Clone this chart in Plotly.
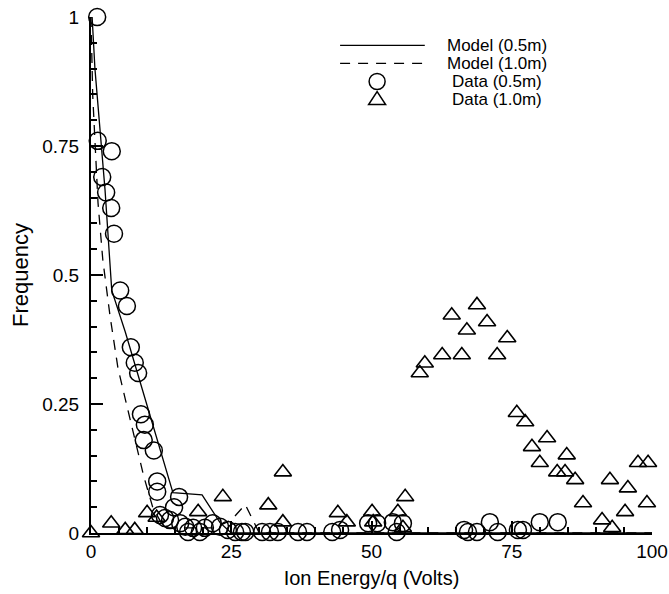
import plotly.graph_objects as go

# ---------------- data ----------------
model_05_x = [0, 0.2, 0.7, 2.5, 3.7, 6.1, 9.1, 14.6, 19.8, 21.6, 23.0, 25.0, 100]
model_05_y = [1.0, 1.0, 0.9, 0.665, 0.47, 0.39, 0.28, 0.078, 0.074, 0.045, 0.02, 0.0, 0.0]

model_10_x = [0, 0.3, 1.25, 2.1, 3.4, 4.8, 6.1, 7.6, 9.4, 11.0, 13.0, 22.0, 25.0, 27.5, 30.0, 100]
model_10_y = [1.0, 0.85, 0.64, 0.53, 0.42, 0.32, 0.26, 0.19, 0.11, 0.05, 0.01, 0.01, 0.025, 0.055, 0.0, 0.0]

data_05_x = [1.1, -0.3, 1.2, 3.7, 2.0, 2.7, 3.6, 4.1, 5.2, 6.4, -0.3, 7.1, 7.8, 8.4,
             8.9, 9.6, 9.4, 11.2, 11.8, 11.8, 15.7, 14.8,
             12.3, 13.2, 14.1, 15.9, 16.8, 17.3, 18.2, 19.4, 20.3, 21.7, 23.0, 24.4, 26.9,
             25.7, 27.5, 30.5, 31.9, 33.3, 36.9, 38.5, 43.0, 44.4, 49.4, 51.0, 53.8, 55.6, 54.5,
             66.5, 67.2, 68.8, 71.1, 72.5, 76.1, 77.0, 80.0, 83.2]
data_05_y = [1.0, 0.92, 0.76, 0.74, 0.69, 0.66, 0.63, 0.58, 0.47, 0.44, 0.34, 0.36, 0.33, 0.31,
             0.23, 0.21, 0.18, 0.16, 0.10, 0.08, 0.07, 0.05,
             0.035, 0.029, 0.025, 0.019, 0.012, 0.002, 0.01, 0.002, 0.01, 0.019, 0.012, 0.006, 0.002,
             0.002, 0.002, 0.002, 0.002, 0.002, 0.002, 0.002, 0.002, 0.006, 0.019, 0.019, 0.021, 0.019, 0.002,
             0.006, 0.002, 0.002, 0.021, 0.002, 0.006, 0.006, 0.021, 0.021]

data_10_x = [0.0, 3.6, 6.1, 7.8, 10.0, 11.7, 19.1, 23.5, 31.6, 34.2, 34.2, 44.0, 45.6, 50.1, 50.3,
             54.7, 56.0, 55.6, 58.6, 59.5, 62.6, 64.3, 66.1, 67.0, 68.8, 70.6, 72.4, 74.2,
             75.9, 77.4, 81.3, 78.6, 80.0, 84.8, 83.1, 84.5, 86.3, 92.5, 95.7, 87.7, 97.5, 99.3,
             99.1, 95.2, 91.1, 92.9]
data_10_y = [0.0, 0.019, 0.006, 0.006, 0.039, 0.03, 0.041, 0.07, 0.054, 0.118, 0.021, 0.039, 0.021, 0.041, 0.021,
             0.041, 0.07, 0.01, 0.31, 0.329, 0.345, 0.422, 0.345, 0.393, 0.442, 0.409, 0.345, 0.378,
             0.233, 0.215, 0.184, 0.167, 0.136, 0.151, 0.118, 0.118, 0.103, 0.103, 0.087, 0.058, 0.136, 0.136,
             0.058, 0.041, 0.025, 0.01]

x_ticks = [0, 25, 50, 75, 100]
x_ticklabels = ["0", "25", "50", "75", "100"]
y_ticks = [0, 0.25, 0.5, 0.75, 1]
y_ticklabels = ["0", "0.25", "0.5", "0.75", "1"]

legend_labels = ["Model (0.5m)", "Model (1.0m)", "Data (0.5m)", "Data (1.0m)"]

FONT = "Liberation Sans, Arial, sans-serif"

fig = go.Figure()
fig.add_trace(go.Scatter(x=model_05_x, y=model_05_y, mode="lines",
                         line=dict(color="black", width=1.3), cliponaxis=False, showlegend=False))
fig.add_trace(go.Scatter(x=model_10_x, y=model_10_y, mode="lines",
                         line=dict(color="black", width=1.3, dash="10px,8px"), cliponaxis=False, showlegend=False))
fig.add_trace(go.Scatter(x=data_05_x, y=data_05_y, mode="markers",
                         marker=dict(symbol="circle-open", size=17, color="black", line=dict(width=1.5)),
                         cliponaxis=False, showlegend=False))
fig.add_trace(go.Scatter(x=data_10_x, y=data_10_y, mode="markers",
                         marker=dict(symbol="triangle-up-open", size=15, color="black", line=dict(width=1.6)),
                         cliponaxis=False, showlegend=False))

# ---------------- manual legend (paper coords) ----------------
row_y = [0.945, 0.91, 0.875, 0.84]
line_x0, line_x1, sym_x, text_x = 0.444, 0.595, 0.51, 0.724
shapes = [
    dict(type="line", xref="paper", yref="paper", x0=line_x0, x1=line_x1, y0=row_y[0], y1=row_y[0],
         line=dict(color="black", width=1.3)),
    dict(type="line", xref="paper", yref="paper", x0=line_x0, x1=line_x1, y0=row_y[1], y1=row_y[1],
         line=dict(color="black", width=1.3, dash="10px,8px")),
    dict(type="circle", xref="paper", yref="paper", xsizemode="pixel", ysizemode="pixel",
         xanchor=sym_x, yanchor=row_y[2], x0=-8, x1=8, y0=-8, y1=8,
         line=dict(color="black", width=1.5)),
    dict(type="path", xref="paper", yref="paper", xsizemode="pixel", ysizemode="pixel",
         xanchor=sym_x, yanchor=row_y[3], path="M -8.5,-5 L 8.5,-5 L 0,8 Z",
         line=dict(color="black", width=1.5)),
]
annotations = [
    dict(text=lab, xref="paper", yref="paper", x=text_x, y=yy, xanchor="center", yanchor="middle",
         showarrow=False, borderpad=0, font=dict(family=FONT, size=17, color="black"))
    for lab, yy in zip(legend_labels, row_y)
]

axis_common = dict(showline=True, linecolor="black", linewidth=2, ticks="inside", tickwidth=2,
                   ticklen=12, tickcolor="black", showgrid=False, zeroline=False, mirror=False,
                   automargin=False,
                   tickfont=dict(family=FONT, size=19, color="black"))

fig.update_layout(
    width=669, height=594,
    margin=dict(l=91, r=17, t=17, b=61),
    paper_bgcolor="white", plot_bgcolor="white",
    shapes=shapes, annotations=annotations,
    xaxis=dict(range=[0, 100], tickvals=x_ticks, ticktext=x_ticklabels, ticklabelstandoff=0,
               minor=dict(dtick=5, ticks="inside", ticklen=6, tickwidth=1.5, tickcolor="black"),
               title=dict(text="Ion Energy/q (Volts)", font=dict(family=FONT, size=20, color="black"), standoff=10),
               **axis_common),
    yaxis=dict(range=[0, 1], tickvals=y_ticks, ticktext=y_ticklabels, ticklabelstandoff=6,
               minor=dict(dtick=0.05, ticks="inside", ticklen=6, tickwidth=1.5, tickcolor="black"),
               title=dict(text="Frequency", font=dict(family=FONT, size=22, color="black"), standoff=8),
               **axis_common),
)

fig.write_html("out.html")
